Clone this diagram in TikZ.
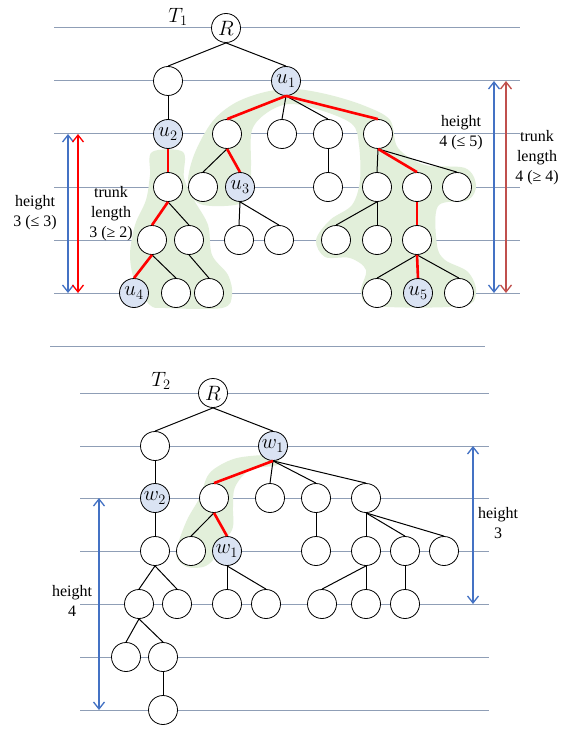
\documentclass[tikz,border=0pt]{standalone}
\usepackage{fontspec}
\setmainfont{Liberation Serif}
\usetikzlibrary{arrows.meta}
\definecolor{hline}{RGB}{143,158,182}
\definecolor{blobgreen}{RGB}{226,239,218}
\definecolor{nodeblue}{RGB}{218,227,243}
\definecolor{arrblue}{RGB}{68,114,196}
\definecolor{arrred}{RGB}{255,0,0}
\definecolor{arrdkred}{RGB}{192,80,77}
\begin{document}
\begin{tikzpicture}[x=1pt,y=-1pt,
 vtx/.style={circle,draw,line width=0.8pt,fill=white,minimum size=29pt,inner sep=0pt,font=\fontsize{21}{21}\selectfont},
 marked/.style={vtx,fill=nodeblue},
 hl/.style={hline,line width=1pt},
 blob/.style={fill=blobgreen,draw=none},
 edge/.style={black,line width=1pt},
 redge/.style={red,line width=2.6pt},
 dimarrow/.style={line width=1.3pt,{Straight Barb[length=7pt,width=11pt]}-{Straight Barb[length=7pt,width=11pt]}},
 lbl/.style={align=center,font=\fontsize{16}{20}\selectfont,inner sep=0pt}
]
\useasboundingbox (0,0) rectangle (561,730);
\fill[white] (0,0) rectangle (561,730);

% horizontal guide lines
\foreach \yy in {28,81,134,187,240,293} \draw[hl] (54,\yy) -- (520,\yy);
\draw[hl] (50,346) -- (485,346);
\foreach \yy in {393,446,498,551,604,657,710} \draw[hl] (80,\yy) -- (489,\yy);

% green regions T1
\fill[blob] plot[smooth cycle,tension=0.55] coordinates {
 (200,204) (188,185) (194,155) (212,122) (235,103) (265,92) (295,89) (330,95)
 (365,106) (390,120) (398,148) (425,165) (465,168) (476,185) (468,200) (438,206)
 (437,245) (445,260) (468,272) (476,292) (462,306) (375,306) (361,292) (366,270)
 (350,258) (325,257) (316,240) (330,220) (352,205) (360,180) (359,145) (352,124)
 (320,110) (290,104) (268,112) (252,130) (251,165) (250,195) (235,205)};
\fill[blob] plot[smooth cycle,tension=0.55] coordinates {
 (152,152) (183,152) (184,178) (194,200) (208,225) (212,255) (228,275) (232,295)
 (222,308) (165,308) (150,305) (135,282) (130,255) (135,225) (146,200) (150,175)};
% green region T2
\fill[blob] plot[smooth cycle,tension=0.55] coordinates {
 (278,458) (277,465) (250,470) (235,487) (233,507) (232,530) (215,550) (213,560)
 (203,567) (187,567) (177,558) (177,547) (187,520) (200,497) (207,477) (217,467)
 (237,458) (267,455)};

% ---------- T1 nodes ----------
\node at (178,17) {\fontsize{21}{21}\selectfont $T_1$};
\node[vtx] (R1) at (226,28) {$R$};
\node[vtx] (a1) at (168,81) {};
\node[marked] (u1) at (286,81) {$u_1$};
\node[marked] (u2) at (168,134) {$u_2$};
\node[vtx] (b1) at (227,134) {};
\node[vtx] (b2) at (282,134) {};
\node[vtx] (b3) at (328,134) {};
\node[vtx] (b4) at (378,134) {};
\node[vtx] (c1) at (168,187) {};
\node[vtx] (c2) at (203,187) {};
\node[marked] (u3) at (240,187) {$u_3$};
\node[vtx] (c3) at (328,187) {};
\node[vtx] (c4) at (377,187) {};
\node[vtx] (c5) at (417,187) {};
\node[vtx] (c6) at (457,187) {};
\node[vtx] (d1) at (152,240) {};
\node[vtx] (d2) at (189,240) {};
\node[vtx] (d3) at (239,240) {};
\node[vtx] (d4) at (279,240) {};
\node[vtx] (d5) at (336,240) {};
\node[vtx] (d6) at (377,240) {};
\node[vtx] (d7) at (417,240) {};
\node[marked] (u4) at (134,293) {$u_4$};
\node[vtx] (e1) at (176,293) {};
\node[vtx] (e2) at (209,293) {};
\node[vtx] (e3) at (377,293) {};
\node[marked] (u5) at (418,293) {$u_5$};
\node[vtx] (e4) at (459,293) {};

\foreach \p/\c in {R1/a1,R1/u1,a1/u2,u1/b2,u1/b3,b1/c2,b3/c3,b4/c4,b4/c6,c1/d2,u3/d3,u3/d4,c4/d5,c4/d6,d1/e1,d2/e2,d7/e3,d7/e4}
  \draw[edge] (\p.south) -- (\c.north);
\foreach \p/\c in {u2/c1,u1/b1,u1/b4,b1/u3,b4/c5,c1/d1,c5/d7,d1/u4,d7/u5}
  \draw[redge] (\p.south) -- (\c.north);

% T1 dimension arrows
\draw[dimarrow,arrblue] (68,134) -- (68,293);
\draw[dimarrow,arrred] (78,134) -- (78,293);
\draw[dimarrow,arrblue] (494,81) -- (494,293);
\draw[dimarrow,arrdkred] (506,81) -- (506,293);
\node[lbl] at (35,213) {height\\3 (≤ 3)};
\node[lbl] at (111,214) {trunk\\length\\3 (≥ 2)};
\node[lbl] at (461,133) {height\\4 (≤ 5)};
\node[lbl] at (537,158) {trunk\\length\\4 (≥ 4)};

% ---------- T2 nodes ----------
\node at (161,381) {\fontsize{21}{21}\selectfont $T_2$};
\node[vtx] (R2) at (213,393) {$R$};
\node[vtx] (f1) at (155,446) {};
\node[marked] (w1a) at (273,446) {$w_1$};
\node[marked] (w2) at (155,498) {$w_2$};
\node[vtx] (g1) at (214,498) {};
\node[vtx] (g2) at (270,498) {};
\node[vtx] (g3) at (316,498) {};
\node[vtx] (g4) at (366,498) {};
\node[vtx] (h1) at (155,551) {};
\node[vtx] (h2) at (191,551) {};
\node[marked] (w1b) at (227,551) {$w_1$};
\node[vtx] (h3) at (316,551) {};
\node[vtx] (h4) at (366,551) {};
\node[vtx] (h5) at (405,551) {};
\node[vtx] (h6) at (444,551) {};
\node[vtx] (i1) at (139,604) {};
\node[vtx] (i2) at (177,604) {};
\node[vtx] (i3) at (227,604) {};
\node[vtx] (i4) at (266,604) {};
\node[vtx] (i5) at (322,604) {};
\node[vtx] (i6) at (366,604) {};
\node[vtx] (i7) at (405,604) {};
\node[vtx] (j1) at (126,657) {};
\node[vtx] (j2) at (163,657) {};
\node[vtx] (k1) at (163,710) {};

\foreach \p/\c in {R2/f1,R2/w1a,f1/w2,w2/h1,w1a/g2,w1a/g3,w1a/g4,g1/h2,g3/h3,g4/h4,g4/h5,g4/h6,h1/i1,h1/i2,w1b/i3,w1b/i4,h4/i5,h4/i6,h5/i7,i1/j1,i1/j2,j2/k1}
  \draw[edge] (\p.south) -- (\c.north);
\foreach \p/\c in {w1a/g1,g1/w1b}
  \draw[redge] (\p.south) -- (\c.north);

% T2 dimension arrows
\draw[dimarrow,arrblue] (99,498) -- (99,710);
\draw[dimarrow,arrblue] (473,446) -- (473,604);
\node[lbl] at (498,523) {height\\3};
\node[lbl] at (72,601) {height\\4};
\end{tikzpicture}
\end{document}
